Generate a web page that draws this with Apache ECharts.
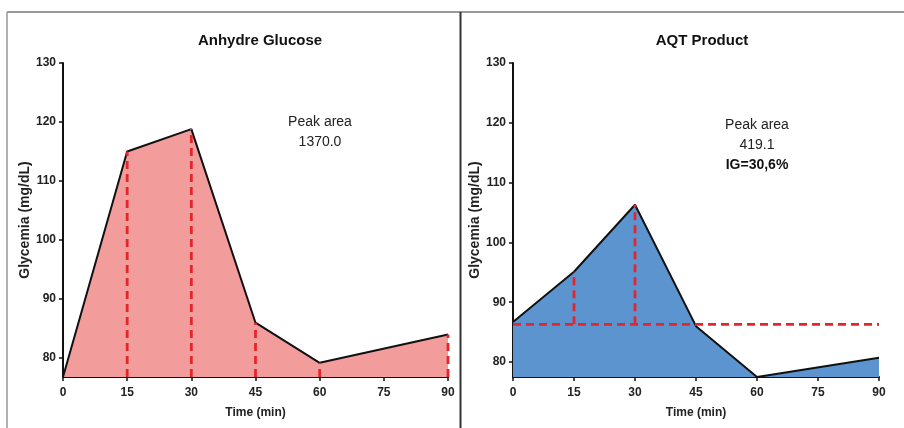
<!DOCTYPE html>
<html>
<head>
    <meta charset="utf-8">
    <title>Glycemia</title>
    <script src="https://cdn.jsdelivr.net/npm/echarts@6/dist/echarts.min.js"></script>
    <style>
        html, body { margin: 0; padding: 0; background: #fff; }
    </style>
</head>
<body>
    <div id="main" style="width:904px;height:428px;"></div>
    <script type="text/javascript">

// time points (min)
var times = [0, 15, 30, 45, 60, 90];
// Anhydre Glucose glycemia (mg/dL)
var glucose = [76.8, 115.0, 118.8, 86.0, 79.2, 84.0];
// AQT Product glycemia (mg/dL)
var aqt = [86.7, 95.1, 106.3, 86.0, 77.5, 80.7];

var glucoseMin = 76.8;
var aqtMin = 77.5;
var aqtBase = 86.3;
var yTicks = [80, 90, 100, 110, 120, 130];

var glucoseDrops = [15, 30, 45, 60, 90];
var aqtDrops = [15, 30];

var FONT = '"Liberation Sans", Arial, sans-serif';
var RED = '#e3262e';

var myChart = echarts.init(document.getElementById('main'));

function pairs(xs, ys) {
    return xs.map(function (x, i) { return [x, ys[i]]; });
}

function dashSeries(xi, data) {
    return {
        type: 'line',
        xAxisIndex: xi,
        yAxisIndex: xi,
        data: data,
        showSymbol: false,
        silent: true,
        z: 4,
        lineStyle: { color: RED, width: 2.8, type: [8, 5] }
    };
}

function xAxisOf(gi) {
    return {
        type: 'value',
        gridIndex: gi,
        min: 0,
        max: 90,
        interval: 15,
        name: 'Time (min)',
        nameLocation: 'middle',
        nameGap: 30,
        nameTextStyle: { fontFamily: FONT, fontWeight: 'bold', fontSize: 12, color: '#222' },
        splitLine: { show: false },
        axisLine: { lineStyle: { color: '#111', width: 2 } },
        axisTick: { length: 4, lineStyle: { color: '#111', width: 1.5 } },
        axisLabel: { fontFamily: FONT, fontWeight: 'bold', fontSize: 12, color: '#222', margin: 10 }
    };
}

function yAxisOf(gi, min) {
    return {
        type: 'value',
        gridIndex: gi,
        min: min,
        max: 130,
        name: 'Glycemia (mg/dL)',
        nameLocation: 'middle',
        nameGap: 30,
        nameTextStyle: { fontFamily: FONT, fontWeight: 'bold', fontSize: 14, color: '#222' },
        splitLine: { show: false },
        axisLine: { show: true, lineStyle: { color: '#111', width: 2 } },
        axisTick: { show: true, length: 4, customValues: yTicks, lineStyle: { color: '#111', width: 1.5 } },
        axisLabel: { fontFamily: FONT, fontWeight: 'bold', fontSize: 12, color: '#222', margin: 7, customValues: yTicks }
    };
}

var series = [];

series.push({
    type: 'line',
    xAxisIndex: 0,
    yAxisIndex: 0,
    data: pairs(times, glucose),
    showSymbol: false,
    z: 3,
    lineStyle: { color: '#111', width: 2 },
    areaStyle: { color: '#f29c9c', opacity: 1, origin: 'start' }
});

series.push({
    type: 'line',
    xAxisIndex: 1,
    yAxisIndex: 1,
    data: pairs(times, aqt),
    showSymbol: false,
    z: 3,
    lineStyle: { color: '#111', width: 2 },
    areaStyle: { color: '#5b94cf', opacity: 1, origin: 'start' }
});

glucoseDrops.forEach(function (t) {
    var v = glucose[times.indexOf(t)];
    series.push(dashSeries(0, [[t, glucoseMin], [t, v]]));
});

aqtDrops.forEach(function (t) {
    var v = aqt[times.indexOf(t)];
    series.push(dashSeries(1, [[t, aqtBase], [t, v]]));
});

// baseline of the AQT curve
series.push(dashSeries(1, [[0, aqtBase], [90, aqtBase]]));

var option = {
    animation: false,
    backgroundColor: '#fff',
    title: [{
        text: 'Anhydre Glucose',
        left: 255,
        top: 28,
        textAlign: 'center',
        textStyle: { fontFamily: FONT, fontWeight: 'bold', fontSize: 15, color: '#111' }
    }, {
        text: 'AQT Product',
        left: 697,
        top: 28,
        textAlign: 'center',
        textStyle: { fontFamily: FONT, fontWeight: 'bold', fontSize: 15, color: '#111' }
    }],
    grid: [{
        left: 63, right: 456, top: 63, bottom: 51
    }, {
        left: 513, right: 25, top: 63, bottom: 51
    }],
    xAxis: [xAxisOf(0), xAxisOf(1)],
    yAxis: [yAxisOf(0, glucoseMin), yAxisOf(1, aqtMin)],
    series: series,
    graphic: [
        { type: 'line', shape: { x1: 7, y1: 12, x2: 904, y2: 12 }, style: { stroke: '#777', lineWidth: 1.5 } },
        { type: 'line', shape: { x1: 7, y1: 12, x2: 7, y2: 428 }, style: { stroke: '#999', lineWidth: 1.5 } },
        { type: 'line', shape: { x1: 460.5, y1: 12, x2: 460.5, y2: 428 }, style: { stroke: '#333', lineWidth: 2 } },
        { type: 'text', x: 320, y: 122, style: { text: 'Peak area', fontFamily: FONT, fontSize: 14, fill: '#222', align: 'center', verticalAlign: 'middle' } },
        { type: 'text', x: 320, y: 142, style: { text: '1370.0', fontFamily: FONT, fontSize: 14, fill: '#222', align: 'center', verticalAlign: 'middle' } },
        { type: 'text', x: 757, y: 125, style: { text: 'Peak area', fontFamily: FONT, fontSize: 14, fill: '#222', align: 'center', verticalAlign: 'middle' } },
        { type: 'text', x: 757, y: 145, style: { text: '419.1', fontFamily: FONT, fontSize: 14, fill: '#222', align: 'center', verticalAlign: 'middle' } },
        { type: 'text', x: 757, y: 165, style: { text: 'IG=30,6%', fontFamily: FONT, fontSize: 14, fontWeight: 'bold', fill: '#111', align: 'center', verticalAlign: 'middle' } }
    ]
};

myChart.setOption(option);
    </script>
</body>
</html>
